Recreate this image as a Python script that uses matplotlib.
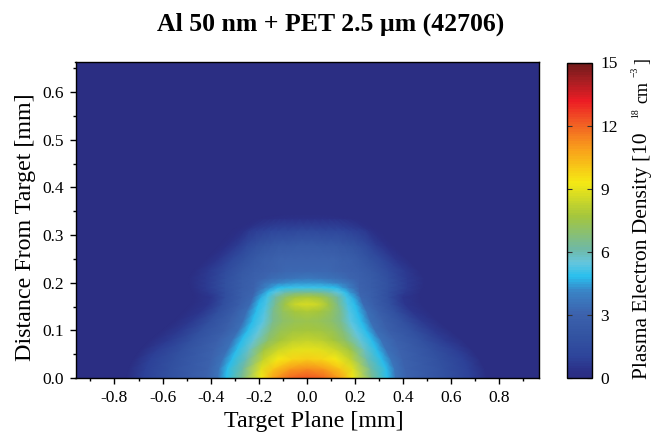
import numpy as np
import matplotlib
matplotlib.use("Agg")
import matplotlib.pyplot as plt
from matplotlib.colors import LinearSegmentedColormap, Normalize
from matplotlib.cm import ScalarMappable

plt.rcParams['font.family'] = ['Liberation Serif', 'DejaVu Serif']
plt.rcParams['mathtext.default'] = 'regular'

# heights (mm) of the sampled rows; each row has its own x samples (mirrored about x = 0)
y_rows = [0, .02, .04, .06, .08, .10, .12, .14, .155, .17, .18, .19, .20, .21, .225, .25, .28, .31, .335, .345, .67]
x_rows = [
    [0, .07, .14, .19, .27, .335, .37, .42, .58, .68, .75, .97],
    [0, .07, .14, .19, .265, .33, .365, .41, .57, .67, .74, .97],
    [0, .06, .12, .18, .25, .31, .35, .40, .55, .65, .72, .97],
    [0, .06, .12, .18, .24, .29, .33, .385, .52, .62, .69, .97],
    [0, .06, .11, .16, .22, .27, .31, .37, .48, .575, .65, .97],
    [0, .06, .11, .15, .20, .245, .285, .34, .44, .53, .60, .97],
    [0, .05, .10, .14, .18, .225, .265, .32, .40, .48, .55, .97],
    [0, .05, .10, .14, .175, .21, .25, .30, .37, .44, .51, .97],
    [0, .05, .09, .13, .17, .20, .235, .28, .35, .41, .48, .97],
    [0, .05, .09, .13, .165, .19, .225, .27, .34, .40, .47, .97],
    [0, .05, .09, .13, .16, .18, .22, .27, .34, .41, .475, .97],
    [0, .05, .09, .12, .15, .175, .22, .27, .34, .42, .485, .97],
    [0, .05, .09, .12, .15, .18, .22, .27, .34, .42, .49, .97],
    [0, .05, .09, .12, .15, .18, .22, .27, .34, .42, .49, .97],
    [0, .05, .09, .12, .15, .18, .22, .27, .34, .41, .47, .97],
    [0, .05, .09, .12, .15, .18, .22, .26, .31, .37, .42, .97],
    [0, .04, .08, .12, .15, .18, .21, .25, .29, .33, .36, .97],
    [0, .04, .08, .12, .15, .18, .21, .24, .26, .28, .31, .97],
    [0, .03, .06, .09, .11, .13, .15, .17, .19, .21, .23, .97],
    [0, .02, .04, .05, .06, .07, .08, .09, .10, .11, .12, .97],
    [0, .02, .04, .05, .06, .07, .08, .09, .10, .11, .12, .97],
]
density = [
    [12.3, 11.9, 10.8, 9.2, 6.4, 4.8, 3.6, 3.0, 1.8, 0.9, 0, 0],
    [11.2, 10.9, 10.0, 8.9, 6.2, 4.8, 3.6, 3.0, 1.8, 0.9, 0, 0],
    [9.9, 9.7, 9.3, 8.3, 6.0, 4.8, 3.6, 3.0, 1.8, 0.9, 0, 0],
    [9.0, 8.9, 8.4, 7.5, 5.8, 4.8, 3.5, 3.0, 1.8, 0.8, 0, 0],
    [8.3, 8.1, 7.7, 7.0, 5.6, 4.8, 3.5, 2.9, 1.8, 0.7, 0, 0],
    [7.7, 7.6, 7.3, 6.7, 5.5, 4.8, 3.4, 2.8, 1.7, 0.6, 0, 0],
    [7.4, 7.3, 7.0, 6.5, 5.4, 4.8, 3.4, 2.8, 1.7, 0.6, 0, 0],
    [7.9, 7.7, 7.2, 6.4, 5.3, 4.8, 3.4, 2.7, 1.6, 0.5, 0, 0],
    [8.7, 8.4, 7.6, 6.5, 5.2, 4.8, 3.3, 2.7, 1.6, 0.5, 0, 0],
    [7.8, 7.6, 7.0, 6.1, 5.1, 4.6, 3.2, 2.7, 1.6, 0.5, 0, 0],
    [6.4, 6.3, 6.0, 5.4, 4.9, 4.3, 3.1, 2.7, 1.6, 0.6, 0, 0],
    [5.0, 5.0, 4.9, 4.8, 4.3, 3.9, 3.0, 2.6, 1.7, 0.7, 0, 0],
    [4.3, 4.3, 4.2, 4.0, 3.8, 3.5, 2.95, 2.6, 1.7, 0.7, 0, 0],
    [3.7, 3.6, 3.5, 3.4, 3.3, 3.1, 2.9, 2.5, 1.6, 0.6, 0, 0],
    [3.2, 3.2, 3.2, 3.1, 3.0, 2.9, 2.7, 2.3, 1.4, 0.6, 0, 0],
    [3.0, 3.0, 3.0, 3.0, 2.8, 2.7, 2.4, 1.9, 1.2, 0.5, 0, 0],
    [2.5, 2.5, 2.4, 2.4, 2.2, 2.0, 1.7, 1.2, 0.7, 0.3, 0, 0],
    [1.2, 1.2, 1.1, 1.1, 1.0, 0.9, 0.8, 0.6, 0.4, 0.2, 0, 0],
    [0.3, 0.3, 0.3, 0.3, 0.3, 0.25, 0.2, 0.15, 0.1, 0.05, 0, 0],
    [0, 0, 0, 0, 0, 0, 0, 0, 0, 0, 0, 0],
    [0, 0, 0, 0, 0, 0, 0, 0, 0, 0, 0, 0],
]
x_ticks = [-0.8, -0.6, -0.4, -0.2, 0.0, 0.2, 0.4, 0.6, 0.8]
x_minor = [-0.9, -0.7, -0.5, -0.3, -0.1, 0.1, 0.3, 0.5, 0.7, 0.9]
y_ticks = [0.0, 0.1, 0.2, 0.3, 0.4, 0.5, 0.6]
y_minor = [0.05, 0.15, 0.25, 0.35, 0.45, 0.55, 0.65]
cbar_ticks = [0, 3, 6, 9, 12, 15]
cmap_stops = [(0, '#2b2e83'), (0.3, '#2b3088'), (1.0, '#2e459b'), (2.0, '#3354a2'), (3.0, '#3c62ad'),
              (4.1, '#3a84c6'), (4.8, '#29c0ee'), (5.5, '#66c6dc'), (6.1, '#6fb9a6'), (7.7, '#a5c63c'),
              (9.3, '#f5e914'), (10.9, '#f9a01b'), (12.2, '#f15a24'), (13.2, '#ed1c24'),
              (14.2, '#a61e22'), (15, '#6f1a1a')]

W, H = 652, 433
fig = plt.figure(figsize=(W / 100, H / 100), dpi=100)
ax = fig.add_axes([75.5 / W, 1 - 378 / H, 463.5 / W, 316 / H])
cax = fig.add_axes([566.5 / W, 1 - 378 / H, 25.5 / W, 315.5 / H])

stops = [(v / 15, c) for v, c in cmap_stops]
norm = Normalize(0, 15)

xr = np.array(x_rows)
zr = np.array(density)
X = np.hstack([-xr[:, :0:-1], xr])
Z = np.hstack([zr[:, :0:-1], zr])
Y = np.repeat(np.array(y_rows)[:, None], X.shape[1], axis=1)
ax.pcolormesh(X, Y, Z, shading='gouraud', norm=norm,
              cmap=LinearSegmentedColormap.from_list('ne_smooth', stops, N=256))
ax.set_xlim(-0.962, 0.965)
ax.set_ylim(0, 0.663)
ax.set_xticks(x_ticks)
ax.set_xticklabels([f'{t:.1f}' for t in x_ticks])
ax.set_xticks(x_minor, minor=True)
ax.set_yticks(y_ticks)
ax.set_yticks(y_minor, minor=True)
ax.tick_params(which='major', length=4.3, width=1.0, labelsize=12.5, pad=4)
ax.tick_params(which='minor', length=2.5, width=1.0)
ax.set_xlabel('Target Plane [mm]', fontsize=17.3, va='center')
ax.xaxis.set_label_coords((314 - 75.5) / 463.5, -(421 - 378) / 316)
ax.set_ylabel('Distance From Target [mm]', fontsize=17.3, va='center')
ax.yaxis.set_label_coords(-(75.5 - 26) / 463.5, (378 - 227) / 316)
for s in ax.spines.values():
    s.set_linewidth(1.0)

cb = fig.colorbar(ScalarMappable(norm=norm, cmap=LinearSegmentedColormap.from_list('ne', stops, N=128)), cax=cax)
cb.set_ticks(cbar_ticks)
cb.ax.tick_params(length=3.6, width=0.8, direction='in', left=True, right=True,
                  labelsize=12.5, pad=6, color='#333333')
cb.outline.set_linewidth(1.0)

# colour-bar label pieces, placed along the vertical
def vtext(px, py, s, size):
    fig.text(px / W, 1 - py / H, s, rotation=90, rotation_mode='anchor', ha='left',
             va='baseline', fontsize=size)
vtext(647, 379, 'Plasma Electron Density [10', 15.5)
vtext(638, 117.5, '18', 7)
vtext(647, 103, 'cm', 13)
vtext(638, 77, '\u22123', 7)
vtext(647, 63.5, ']', 13)

fig.text(331 / W, 1 - 24 / H, 'Al 50 nm + PET 2.5 µm (42706)', ha='center', va='center',
         fontsize=18.5, fontweight='bold')
fig.savefig('out.png', dpi=100)
